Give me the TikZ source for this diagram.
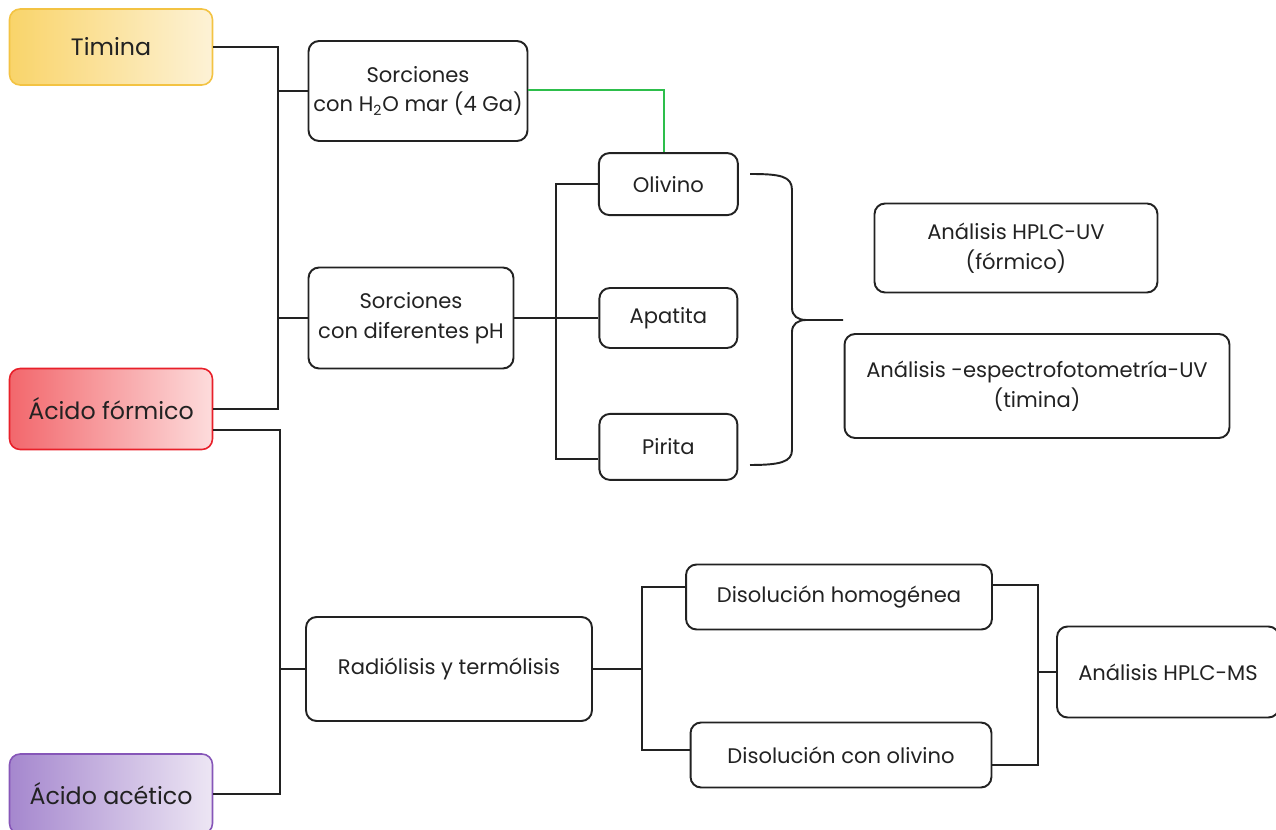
\documentclass[tikz,border=0pt]{standalone}
\usepackage{fontspec}
\setmainfont{Poppins}
\usetikzlibrary{positioning}
\definecolor{ink}{HTML}{222222}
\definecolor{cTimL}{HTML}{F9D46A}
\definecolor{cTimR}{HTML}{FDF2D6}
\definecolor{cTimFr}{HTML}{F3C343}
\definecolor{cForL}{HTML}{F2676C}
\definecolor{cForR}{HTML}{FDDCDC}
\definecolor{cForFr}{HTML}{E8202A}
\definecolor{cAceL}{HTML}{A587CE}
\definecolor{cAceR}{HTML}{EDE6F4}
\definecolor{cAceFr}{HTML}{8656B8}
\definecolor{cGreen}{HTML}{2DBE4B}
\tikzset{
  box/.style={draw=ink,line width=1.1pt,rounded corners=6pt,fill=white,align=center,
    inner sep=0pt,text=ink,font=\fontsize{12}{17}\selectfont},
  rootbox/.style={box,line width=0.9pt,minimum width=4.06cm,font=\fontsize{13.5}{17}\selectfont},
  yellowbox/.style={rootbox,draw=cTimFr,left color=cTimL,right color=cTimR},
  redbox/.style={rootbox,draw=cForFr,left color=cForL,right color=cForR},
  purplebox/.style={rootbox,draw=cAceFr,left color=cAceL,right color=cAceR},
  link/.style={line width=1.1pt,draw=ink},
  greenlink/.style={link,draw=cGreen}}
\begin{document}
\begin{tikzpicture}[x=0.02cm,y=-0.02cm]
  \useasboundingbox (0,0) rectangle (1276,830);
  % left column
  \node[yellowbox,minimum height=1.52cm] (tim) at (111,47) {Timina};
  \node[redbox,minimum height=1.62cm] (for) at (111,409) {Ácido fórmico};
  \node[purplebox,minimum height=1.6cm] (ace) at (111,794) {Ácido acético};
  % sorciones
  \node[box,minimum width=4.38cm,minimum height=2cm] (sh2o) at (418,91)
    {Sorciones\\con H\textsubscript{2}O mar (4 Ga)};
  \node[box,minimum width=4.1cm,minimum height=2.02cm] (sph) at (411,318)
    {Sorciones\\con diferentes pH};
  \node[box,minimum width=2.76cm,minimum height=1.2cm,right=1.68cm of sph] (apa) {Apatita};
  \node[box,minimum width=2.78cm,minimum height=1.24cm,above=1.42cm of apa] (oli) {Olivino};
  \node[box,minimum width=2.76cm,minimum height=1.32cm,below=1.28cm of apa] (pir) {Pirita};
  \node[box,minimum width=5.66cm,minimum height=1.78cm] (huv) at (1016,248)
    {Análisis HPLC-UV\\(fórmico)};
  \node[box,minimum width=7.7cm,minimum height=2.08cm] (esp) at (1037,386)
    {Análisis -espectrofotometría-UV\\(timina)};
  % radiolisis
  \node[box,minimum width=5.72cm,minimum height=2.08cm] (rad) at (449,669)
    {Radiólisis y termólisis};
  \node[box,minimum width=6.12cm,minimum height=1.3cm] (dho) at (839,597) {Disolución homogénea};
  \node[box,minimum width=6.02cm,minimum height=1.3cm] (dol) at (841,755) {Disolución con olivino};
  \node[box,minimum width=4.44cm,minimum height=1.82cm] (ms) at (1168,672) {Análisis HPLC-MS};
  % connectors
  \draw[link] (tim.east) -- ++(65,0) coordinate (j1) |- (for.east);
  \draw[link] (sh2o.west) -- (sh2o.west -| j1);
  \draw[link] (sph.west) -- (sph.west -| j1);
  \draw[link] ([yshift=-0.42cm]for.east) -- ++(67,0) coordinate (j2) |- (ace.east);
  \draw[link] (rad.west) -- (rad.west -| j2);
  \draw[link] (sph.east) -- (apa.west);
  \draw[link] (oli.west) -- ++(-42,0) |- ([yshift=-0.24cm]pir.west);
  \draw[greenlink] ([yshift=0.02cm]sh2o.east) -| ([xshift=-0.08cm]oli.north);
  \draw[link] (rad.east) -- ++(49,0) coordinate (j4);
  \draw[link] ([yshift=0.2cm]dho.west) -| (j4) |- ([yshift=0.1cm]dol.west);
  \draw[link] ([yshift=0.24cm]dho.east) -- ++(45,0) coordinate (j5) |- ([yshift=-0.2cm]dol.east);
  \draw[link] (ms.west) -- (ms.west -| j5);
  % brace
  \coordinate (bt) at (750,174);
  \coordinate (bb) at (750,465);
  \coordinate (bp) at (843,320);
  \draw[link] (bt) .. controls (780,174) and (792,176) .. (792,190) -- (792,308)
    .. controls (792,316) and (798,320) .. (806,320) -- (bp);
  \draw[link] (806,320) .. controls (798,320) and (792,324) .. (792,332) -- (792,450)
    .. controls (792,462) and (780,465) .. (bb);
\end{tikzpicture}
\end{document}
